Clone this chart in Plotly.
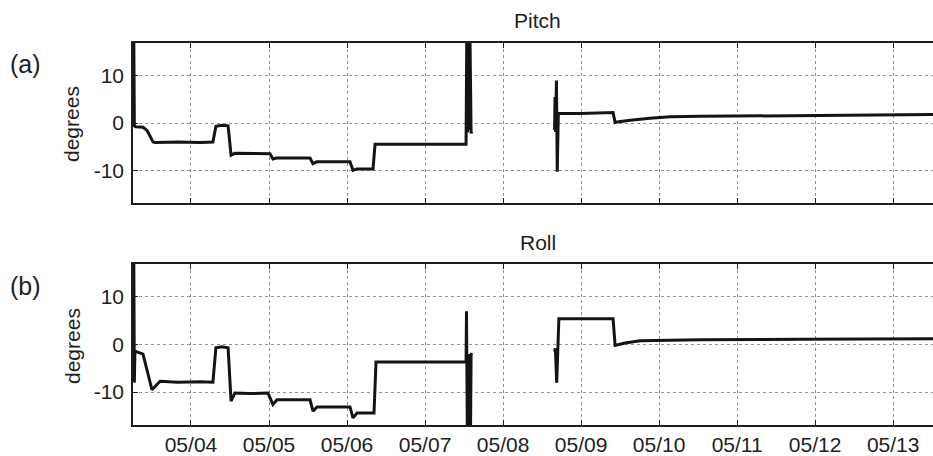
import plotly.graph_objects as go

# ---- data -----------------------------------------------------------------
pitch_time = [
    "2011-05-03 06:25", "2011-05-03 06:35", "2011-05-03 07:00", "2011-05-03 09:15",
    "2011-05-03 10:30", "2011-05-03 12:20", "2011-05-03 13:00", "2011-05-03 20:00",
    "2011-05-04 03:00", "2011-05-04 06:45", "2011-05-04 07:40", "2011-05-04 09:30",
    "2011-05-04 11:25", "2011-05-04 12:20", "2011-05-04 13:30", "2011-05-04 18:00",
    "2011-05-05 00:18", "2011-05-05 01:14", "2011-05-05 02:20", "2011-05-05 12:37",
    "2011-05-05 13:32", "2011-05-05 14:40", "2011-05-06 00:55", "2011-05-06 01:50",
    "2011-05-06 03:00", "2011-05-06 08:00", "2011-05-06 08:37", "2011-05-06 20:00",
    "2011-05-07 12:37", "2011-05-07 12:50", "2011-05-07 13:05", "2011-05-07 13:20",
    "2011-05-07 13:35", "2011-05-07 13:50", "2011-05-07 14:10", "2011-05-07 14:20",
    "2011-05-07 16:00",
    "2011-05-08 15:50", "2011-05-08 16:00", "2011-05-08 16:10", "2011-05-08 16:25",
    "2011-05-08 16:40", "2011-05-08 17:00", "2011-05-08 17:32", "2011-05-09 00:00",
    "2011-05-09 09:50", "2011-05-09 10:28", "2011-05-09 11:05", "2011-05-09 15:05",
    "2011-05-09 21:14", "2011-05-10 03:23", "2011-05-10 12:37", "2011-05-11 19:24",
    "2011-05-13 02:10", "2011-05-13 14:00",
]
pitch_deg = [
    17.5, -0.6, -0.8, -0.9,
    -1.6, -4.0, -4.1, -4.0,
    -4.1, -4.0, -0.7, -0.5,
    -0.6, -6.8, -6.4, -6.5,
    -6.5, -7.6, -7.4, -7.4,
    -8.6, -8.2, -8.2, -10.0,
    -9.7, -9.7, -4.5, -4.5,
    -4.5, 17.5, -2.0, 17.5,
    -1.5, 17.5, -2.2, -1.8,
    None,
    -1.5, 5.5, -1.9, 9.0,
    -10.3, 2.0, 2.0, 2.0,
    2.2, 0.1, 0.2, 0.6,
    1.0, 1.3, 1.4, 1.5,
    1.6, 1.8,
]

roll_time = [
    "2011-05-03 06:25", "2011-05-03 06:35", "2011-05-03 06:45", "2011-05-03 09:15",
    "2011-05-03 12:00", "2011-05-03 14:30", "2011-05-03 20:00", "2011-05-04 03:00",
    "2011-05-04 06:45", "2011-05-04 07:40", "2011-05-04 09:30", "2011-05-04 11:25",
    "2011-05-04 12:20", "2011-05-04 13:30", "2011-05-04 18:00", "2011-05-04 23:40",
    "2011-05-05 01:14", "2011-05-05 02:28", "2011-05-05 12:37", "2011-05-05 13:32",
    "2011-05-05 14:46", "2011-05-06 00:55", "2011-05-06 01:50", "2011-05-06 03:05",
    "2011-05-06 08:18", "2011-05-06 08:55", "2011-05-06 20:00", "2011-05-07 12:37",
    "2011-05-07 12:45", "2011-05-07 13:00", "2011-05-07 13:15", "2011-05-07 13:30",
    "2011-05-07 13:45", "2011-05-07 14:00", "2011-05-07 14:10", "2011-05-07 14:20",
    "2011-05-07 16:00",
    "2011-05-08 15:50", "2011-05-08 16:05", "2011-05-08 16:30", "2011-05-08 17:10",
    "2011-05-08 17:32", "2011-05-09 00:00", "2011-05-09 09:50", "2011-05-09 10:28",
    "2011-05-09 11:05", "2011-05-09 13:32", "2011-05-09 18:10", "2011-05-10 00:18",
    "2011-05-10 12:37", "2011-05-11 19:24", "2011-05-13 02:10", "2011-05-13 14:00",
]
roll_deg = [
    17.5, -8.0, -1.4, -2.0,
    -9.5, -7.7, -7.9, -7.8,
    -7.9, -0.7, -0.5, -0.7,
    -11.9, -10.2, -10.3, -10.2,
    -12.6, -11.6, -11.6, -14.0,
    -13.1, -13.1, -15.4, -14.4,
    -14.4, -3.7, -3.7, -3.7,
    7.0, -17.5, -2.0, -17.5,
    -2.0, -17.5, -2.1, -1.8,
    None,
    -1.5, -0.8, -8.0, 5.4,
    5.4, 5.4, 5.4, -0.2,
    -0.1, 0.3, 0.8, 0.9,
    1.0, 1.1, 1.1, 1.2,
]

day_ticks = ["2011-05-%02d" % d for d in range(4, 14)]
deg_ticks = [-10, 0, 10]
deg_labels = ["-10", "0", "10"]
x_range = ["2011-05-03 06:10", "2011-05-13 12:15"]
y_range = [-16.9, 16.9]

# ---- figure ---------------------------------------------------------------
FONT = "Liberation Sans, Arial, sans-serif"
INK = "#1e1e1e"
W, H = 933, 456
LEFT = 133 / W

fig = go.Figure()
line = dict(color="#141414", width=3)
fig.add_trace(go.Scatter(x=pitch_time, y=pitch_deg, mode="lines", line=line,
                         connectgaps=False, xaxis="x", yaxis="y", showlegend=False))
fig.add_trace(go.Scatter(x=roll_time, y=roll_deg, mode="lines", line=line,
                         connectgaps=False, xaxis="x2", yaxis="y2", showlegend=False))

xcommon = dict(type="date", range=x_range, tickmode="array", tickvals=day_ticks,
               tickformat="%m/%d", ticks="inside", ticklen=5, tickcolor=INK,
               showline=True, linecolor=INK, linewidth=1.5, mirror="ticks",
               showgrid=True, gridcolor="#909090", griddash="dot", gridwidth=1,
               zeroline=False, automargin=False, domain=[LEFT, 1.0],
               tickfont=dict(family=FONT, size=21, color=INK))
ycommon = dict(range=y_range, tickmode="array", tickvals=deg_ticks, ticktext=deg_labels,
               ticks="inside", ticklen=5, tickcolor=INK,
               showline=True, linecolor=INK, linewidth=1.5, mirror=False,
               showgrid=True, gridcolor="#909090", griddash="dot", gridwidth=1,
               zeroline=False, automargin=False, ticklabelstandoff=3,
               tickfont=dict(family=FONT, size=21, color=INK))

fig.update_layout(
    width=W, height=H,
    margin=dict(l=0, r=0, t=0, b=0),
    paper_bgcolor="white", plot_bgcolor="white",
    xaxis=dict(xcommon, anchor="y", showticklabels=False),
    yaxis=dict(ycommon, anchor="x", domain=[1 - 203 / H, 1 - 43 / H]),
    xaxis2=dict(xcommon, anchor="y2"),
    yaxis2=dict(ycommon, anchor="x2", domain=[1 - 425 / H, 1 - 264 / H]),
)

def label(text, px, py, size, angle=0):
    fig.add_annotation(text=text, x=px / W, y=1 - py / H, xref="paper", yref="paper",
                       showarrow=False, textangle=angle, xanchor="center", yanchor="middle",
                       font=dict(family=FONT, size=size, color=INK))

label("Pitch", 537, 20, 21)
label("Roll", 538, 242, 21)
label("(a)", 25, 64, 25)
label("(b)", 25, 286, 25)
label("degrees", 72, 124, 21, -90)
label("degrees", 72, 346, 21, -90)

fig.write_html("out.html")
